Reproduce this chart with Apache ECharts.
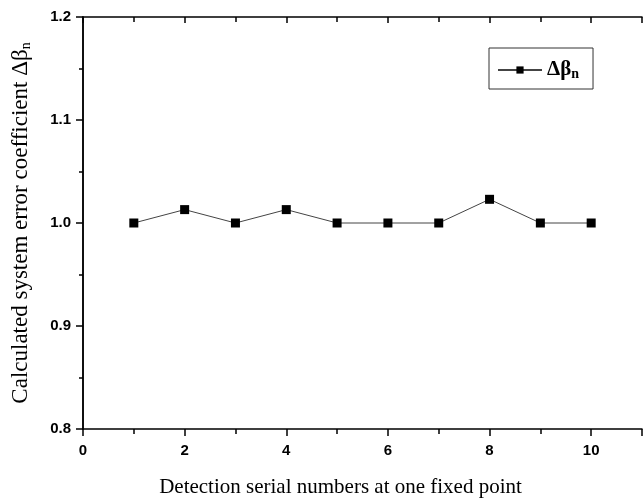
<!DOCTYPE html>
<html>
<head>
<meta charset="utf-8">
<script src="https://cdn.jsdelivr.net/npm/echarts@6/dist/echarts.min.js"></script>
<style>
  html, body { margin: 0; padding: 0; background: #fff; }
  #chart { width: 643px; height: 504px; }
</style>
</head>
<body>
<div id="chart"></div>
<script>
// 检测序号和系数
var xValues = [1, 2, 3, 4, 5, 6, 7, 8, 9, 10];
var betaValues = [1.0, 1.013, 1.0, 1.013, 1.0, 1.0, 1.0, 1.023, 1.0, 1.0];
var seriesName = 'Δβn';
var xTitle = 'Detection serial numbers at one fixed point';
var yTitle = 'Calculated system error coefficient Δβ';

var chart = echarts.init(document.getElementById('chart'));

var axisLine = { show: true, lineStyle: { color: '#000', width: 1.5 } };
var labelFont = { color: '#000', fontFamily: 'Liberation Sans, Arial', fontWeight: 'bold', fontSize: 15 };

var option = {
    animation: false,
    backgroundColor: '#fff',
    grid: { left: 83, top: 17, right: 1, bottom: 75, containLabel: false },
    legend: {
        left: 489,
        top: 48,
        orient: 'vertical',
        borderColor: '#333',
        borderWidth: 1,
        padding: [9, 14, 8, 8],
        itemWidth: 44,
        itemHeight: 9,
        data: [seriesName],
        formatter: function () {
            return '{a|Δβ}{s|n}';
        },
        textStyle: {
            rich: {
                a: { fontFamily: 'Liberation Serif, Times New Roman', fontWeight: 'bold', fontSize: 21, color: '#000', lineHeight: 22 },
                s: { fontFamily: 'Liberation Serif, Times New Roman', fontWeight: 'bold', fontSize: 14, color: '#000', verticalAlign: 'bottom', lineHeight: 22, padding: [10, 0, 0, 0] }
            }
        }
    },
    xAxis: [{
        type: 'value',
        min: 0,
        max: 11,
        interval: 2,
        position: 'bottom',
        name: xTitle,
        nameLocation: 'middle',
        nameGap: 48,
        nameTextStyle: { fontFamily: 'Liberation Serif, Times New Roman', fontSize: 21, color: '#000', padding: [0, 44, 0, 0] },
        axisLine: axisLine,
        axisTick: { show: true, inside: false, length: 7, lineStyle: { color: '#000', width: 1.5 } },
        minorTick: { show: true, splitNumber: 2, length: 5, lineStyle: { color: '#000', width: 1.5 } },
        axisLabel: Object.assign({ margin: 14, showMaxLabel: false }, labelFont),
        splitLine: { show: false }
    }, {
        type: 'value',
        min: 0,
        max: 11,
        interval: 2,
        position: 'top',
        axisLine: axisLine,
        axisTick: { show: true, inside: true, length: 6, lineStyle: { color: '#000', width: 1.5 } },
        minorTick: { show: true, splitNumber: 2, length: 5, lineStyle: { color: '#000', width: 1.5 } },
        axisLabel: { show: false },
        splitLine: { show: false }
    }],
    yAxis: [{
        type: 'value',
        min: 0.8,
        max: 1.2,
        interval: 0.1,
        position: 'left',
        name: '{t|' + yTitle + '}{s|n}',
        nameLocation: 'middle',
        nameGap: 50,
        nameTextStyle: {
            rich: {
                t: { fontFamily: 'Liberation Serif, Times New Roman', fontSize: 23, color: '#000', lineHeight: 24 },
                s: { fontFamily: 'Liberation Serif, Times New Roman', fontSize: 14, color: '#000', verticalAlign: 'bottom', lineHeight: 24, padding: [10, 0, 0, 0] }
            }
        },
        axisLine: axisLine,
        axisTick: { show: true, inside: false, length: 7, lineStyle: { color: '#000', width: 1.5 } },
        minorTick: { show: true, splitNumber: 2, length: 4, lineStyle: { color: '#000', width: 1.5 } },
        axisLabel: Object.assign({
            margin: 12,
            formatter: function (v) { return v.toFixed(1); }
        }, labelFont),
        splitLine: { show: false }
    }, {
        type: 'value',
        min: 0.8,
        max: 1.2,
        interval: 0.1,
        position: 'right',
        axisLine: axisLine,
        axisTick: { show: true, inside: true, length: 6, lineStyle: { color: '#000', width: 1.5 } },
        minorTick: { show: true, splitNumber: 2, length: 4, lineStyle: { color: '#000', width: 1.5 } },
        axisLabel: { show: false },
        splitLine: { show: false }
    }],
    series: [{
        name: seriesName,
        type: 'line',
        xAxisIndex: 0,
        yAxisIndex: 0,
        data: xValues.map(function (x, i) { return [x, betaValues[i]]; }),
        symbol: 'rect',
        symbolSize: 9,
        itemStyle: { color: '#000' },
        lineStyle: { color: '#444', width: 1 }
    }]
};
chart.setOption(option);
</script>
</body>
</html>
